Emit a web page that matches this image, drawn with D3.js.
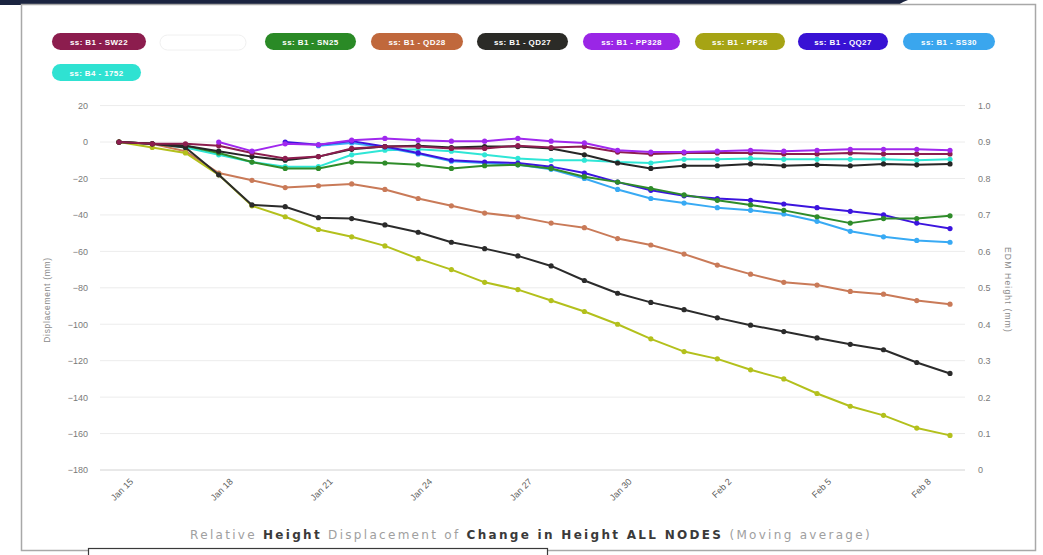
<!DOCTYPE html>
<html>
<head>
<meta charset="utf-8">
<script src="https://cdn.jsdelivr.net/npm/d3@7"></script>
<style>
  html, body { margin: 0; padding: 0; background: #fff; }
  svg { display: block; font-family: "Liberation Sans", Arial, sans-serif; }
</style>
</head>
<body>
<svg id="chart" width="1043" height="555"></svg>
<script>
// Reading dates (one reading per day)
const dates = [
  "2021-01-15","2021-01-16","2021-01-17","2021-01-18","2021-01-19","2021-01-20",
  "2021-01-21","2021-01-22","2021-01-23","2021-01-24","2021-01-25","2021-01-26",
  "2021-01-27","2021-01-28","2021-01-29","2021-01-30","2021-01-31","2021-02-01",
  "2021-02-02","2021-02-03","2021-02-04","2021-02-05","2021-02-06","2021-02-07",
  "2021-02-08","2021-02-09"
];
const tickDates = ["2021-01-15","2021-01-18","2021-01-21","2021-01-24","2021-01-27",
                   "2021-01-30","2021-02-02","2021-02-05","2021-02-08"];
const leftTicks = [20, 0, -20, -40, -60, -80, -100, -120, -140, -160, -180];
const rightTicks = [1.0, 0.9, 0.8, 0.7, 0.6, 0.5, 0.4, 0.3, 0.2, 0.1, 0];

// Displacement per node (mm); null = no reading yet
const sw22  = [0,-1,-1,-2,-6,-9,-8,-3.5,-2.5,-2.5,-3.5,-3.5,-2,-3,-2.5,-5.5,-6.5,-6,-6,-6,-6.5,-6.5,-6,-6.5,-6.5,-6.5];
const unnamed = [0,-1,-2,-5,-8,-10,-8,-4,-2.5,-2,-3,-2.5,-2.5,-3.5,-7,-11.5,-14.5,-13,-13,-12,-13,-12.5,-13,-12,-12.5,-12];
const sn25  = [0,-1,-2,-6,-11,-14.5,-14.5,-11,-11.5,-12.5,-14.5,-13,-12.5,-14.5,-19,-22,-25.5,-29,-32,-34.5,-37.5,-41,-44.5,-42,-42,-40.5];
const qd28  = [0,-1,-5,-17,-21,-25,-24,-23,-26,-31,-35,-39,-41,-44.5,-47,-53,-56.5,-61.5,-67.5,-72.5,-77,-78.5,-82,-83.5,-87,-89];
const qd27  = [0,-1,-3,-18,-34.5,-35.5,-41.5,-42,-45.5,-49.5,-55,-58.5,-62.5,-68,-76,-83,-88,-92,-96.5,-100.5,-104,-107.5,-111,-114,-121,-127];
const pp328 = [null,null,null,0,-5,-1,-1.5,1,2,1,0.5,0.5,2,0.5,-0.5,-4.5,-5.5,-5.5,-5,-4.5,-5,-4.5,-4,-4,-4,-4.5];
const pp26  = [0,-3,-6,-18,-35,-41,-48,-52,-57,-64,-70,-77,-81,-87,-93,-100,-108,-115,-119,-125,-130,-138,-145,-150,-157,-161];
const qq27  = [null,null,null,null,null,0,-1.5,0.5,-2.5,-6,-10,-11,-11.5,-13.5,-17,-22,-26.5,-29.5,-31,-32,-34,-36,-38,-40,-44.5,-47.5];
const ss30  = [null,null,null,null,null,null,-2,-0.5,-3,-6.5,-10.5,-11.5,-12.5,-15,-20,-26,-31,-33.5,-36,-37.5,-39.5,-43.5,-49,-52,-54,-55];
const n1752 = [0,-1,-3,-7,-11,-13.5,-13.5,-7,-4.5,-4,-5,-7,-9,-10,-10,-11,-11.5,-9.5,-9.5,-9,-9.5,-9.5,-9.5,-9.5,-10,-9.5];

const series = [
  { name: "ss: B1 - SW22",  values: sw22,    color: "#8c1d4e", pill: "#8c1d4e" },
  { name: "",               values: unnamed, color: "#262626", pill: null },
  { name: "ss: B1 - SN25",  values: sn25,    color: "#2f8c2a", pill: "#2a8a26" },
  { name: "ss: B1 - QD28",  values: qd28,    color: "#c97a58", pill: "#c0683c" },
  { name: "ss: B1 - QD27",  values: qd27,    color: "#2b2b2b", pill: "#2b2b27" },
  { name: "ss: B1 - PP328", values: pp328,   color: "#a028ee", pill: "#9a26e6" },
  { name: "ss: B1 - PP26",  values: pp26,    color: "#b3c01c", pill: "#a6a414" },
  { name: "ss: B1 - QQ27",  values: qq27,    color: "#3c14de", pill: "#3812d4" },
  { name: "ss: B1 - SS30",  values: ss30,    color: "#38aaf4", pill: "#3aa6ee" },
  { name: "ss: B4 - 1752",  values: n1752,   color: "#2fe6d6", pill: "#2fe2d2" }
];
// draw order for the lines (cyan and blue tones underneath the dark lines)
const drawOrder = [9, 8, 7, 2, 3, 6, 4, 1, 0, 5];

const parse = d3.timeParse("%Y-%m-%d");
const fmt = d3.timeFormat("%b %-d");
const svg = d3.select("#chart");

// page frame
svg.append("path")
  .attr("d", "M0,0 H908 Q902,2 898,5 H0 Z")
  .attr("fill", "#1b2440");
svg.append("rect")
  .attr("x", 21.5).attr("y", 4.5).attr("width", 1014).attr("height", 546)
  .attr("fill", "none").attr("stroke", "#a8a8a8").attr("stroke-width", 1.5);

const x = d3.scaleTime()
  .domain([parse(dates[0]), parse(dates[dates.length - 1])])
  .range([119, 950]);
const y = d3.scaleLinear().domain([-180, 20]).range([470, 105.6]);
const yR = d3.scaleLinear().domain([0, 1]).range([470, 105.6]);

// horizontal grid
svg.append("g").selectAll("line").data(leftTicks).join("line")
  .attr("x1", 100).attr("x2", 965)
  .attr("y1", d => y(d)).attr("y2", d => y(d))
  .attr("stroke", d => d === -180 ? "#d2d2d2" : "#ececec")
  .attr("stroke-width", 1);

// left axis
const gL = svg.append("g").attr("transform", "translate(90,0)")
  .call(d3.axisLeft(y).tickValues(leftTicks).tickSize(0).tickPadding(2));
gL.select(".domain").remove();
gL.selectAll("text").attr("fill", "#7a7a7a").style("font-size", "9px");

// right axis
const gR = svg.append("g").attr("transform", "translate(976,0)")
  .call(d3.axisRight(yR).tickValues(rightTicks).tickSize(0).tickPadding(2)
    .tickFormat(d => d === 0 ? "0" : d3.format(".1f")(d)));
gR.select(".domain").remove();
gR.selectAll("text").attr("fill", "#7a7a7a").style("font-size", "9px");

// bottom axis
const gB = svg.append("g").attr("transform", "translate(0,470)")
  .call(d3.axisBottom(x).tickValues(tickDates.map(parse)).tickSize(0).tickFormat(fmt));
gB.select(".domain").remove();
gB.selectAll("text")
  .attr("fill", "#5e5e5e").style("font-size", "9px")
  .attr("text-anchor", "end")
  .attr("transform", "translate(12,10) rotate(-45)")
  .attr("dy", "0.35em").attr("y", 0);

// axis titles
svg.append("text")
  .attr("transform", "translate(50,300) rotate(-90)")
  .attr("text-anchor", "middle").attr("fill", "#8a8a8a")
  .style("font-size", "8.5px").style("letter-spacing", "0.7px")
  .text("Displacement (mm)");
svg.append("text")
  .attr("transform", "translate(1005,290) rotate(90)")
  .attr("text-anchor", "middle").attr("fill", "#8a8a8a")
  .style("font-size", "8.5px").style("letter-spacing", "1.2px")
  .text("EDM Height (mm)");

// lines and markers
const line = d3.line()
  .defined(d => d.v !== null)
  .x(d => x(d.t)).y(d => y(d.v));

const plot = svg.append("g");
drawOrder.forEach(k => {
  const s = series[k];
  const pts = s.values.map((v, i) => ({ t: parse(dates[i]), v }));
  plot.append("path")
    .datum(pts)
    .attr("fill", "none")
    .attr("stroke", s.color)
    .attr("stroke-width", 2)
    .attr("stroke-linejoin", "round")
    .attr("d", line);
  plot.append("g").selectAll("circle")
    .data(pts.filter(d => d.v !== null)).join("circle")
    .attr("cx", d => x(d.t)).attr("cy", d => y(d.v))
    .attr("r", 2.6).attr("fill", s.color);
});

// legend pills
const pillPos = [
  [52, 33, 94], [160, 34, 86], [265, 33, 91], [371, 33, 92], [477, 33, 91],
  [583, 33, 97], [695, 33, 90], [798, 33, 90], [903, 33, 92], [52, 64, 89]
];
const leg = svg.append("g");
series.forEach((s, i) => {
  const [px, py, pw] = pillPos[i];
  const g = leg.append("g").attr("transform", `translate(${px},${py})`);
  if (s.pill) {
    g.append("rect").attr("width", pw).attr("height", 17).attr("rx", 8.5)
      .attr("fill", s.pill);
    g.append("text").attr("x", pw / 2).attr("y", 11.5)
      .attr("text-anchor", "middle").attr("fill", "#ffffff")
      .style("font-size", "8px").style("font-weight", "bold")
      .style("letter-spacing", "0.4px")
      .text(s.name);
  } else {
    g.append("rect").attr("width", pw).attr("height", 15).attr("y", 1).attr("rx", 7.5)
      .attr("fill", "#ffffff").attr("stroke", "#f0f0f0");
  }
});

// chart caption
const cap = svg.append("text")
  .attr("x", 531).attr("y", 539)
  .attr("text-anchor", "middle")
  .style("font-family", "'DejaVu Sans', Verdana, sans-serif")
  .style("font-size", "12px").style("letter-spacing", "2.3px");
[
  ["Relative ", false], ["Height", true], [" Displacement of ", false],
  ["Change in Height ALL NODES", true], [" (Moving average)", false]
].forEach(([t, b]) => {
  cap.append("tspan").text(t)
    .attr("fill", b ? "#3a3a3a" : "#a0a0a0")
    .style("font-weight", b ? "bold" : "normal");
});

// floating box at the bottom edge
svg.append("rect")
  .attr("x", 88.5).attr("y", 548.5).attr("width", 459).attr("height", 20)
  .attr("fill", "#ffffff").attr("stroke", "#3a3a3a").attr("stroke-width", 1.2);
</script>
</body>
</html>
